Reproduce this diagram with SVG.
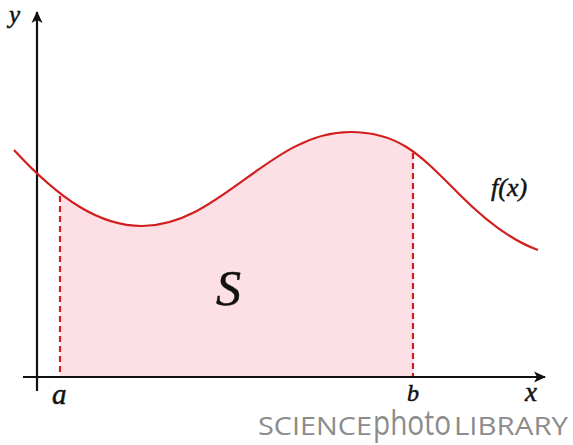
<svg xmlns="http://www.w3.org/2000/svg" width="573" height="445" viewBox="0 0 573 445">
<style>
.axis{stroke:#111;stroke-width:2.2;fill:none}
.curve{stroke:#d11f1f;stroke-width:2.2;fill:none}
.dash{stroke:#d11f1f;stroke-width:2.2;stroke-dasharray:6,4;fill:none}
.lbl{font-family:"Liberation Serif","DejaVu Serif",serif;font-style:italic;fill:#111;stroke:#111;stroke-width:0.5}
.wm{font-family:"Open Sans","Noto Sans",sans-serif;fill:#8c8c8c}
</style>
<defs>
<marker id="arr" viewBox="0 0 12 12" refX="11" refY="6" markerWidth="12" markerHeight="12" markerUnits="userSpaceOnUse" orient="auto">
<path d="M0,0.5 L12,6 L0,11.5 L3,6 Z" fill="#111"/>
</marker>
<clipPath id="ab"><rect x="60" y="0" width="353" height="377"/></clipPath>
</defs>
<g id="area">
<path clip-path="url(#ab)" d="M14,150 C60,200 100,226 142,226 C220,226 270,132 350,132 C400,132 420,155 460,195 C490,225 515,242 538,250 L538,377 L14,377 Z" fill="#fde0e6"/>
</g>
<g id="connectors">
<line class="axis" x1="37" y1="391" x2="37" y2="12" marker-end="url(#arr)"/>
<line class="axis" x1="23" y1="377" x2="545" y2="377" marker-end="url(#arr)"/>
<line class="dash" x1="60" y1="196" x2="60" y2="376"/>
<line class="dash" x1="413" y1="153" x2="413" y2="376"/>
</g>
<g id="curve">
<path class="curve" d="M14,150 C60,200 100,226 142,226 C220,226 270,132 350,132 C400,132 420,155 460,195 C490,225 515,242 538,250"/>
</g>
<g id="labels">
<text class="lbl" x="9" y="23" font-size="25">y</text>
<text class="lbl" x="525" y="401" font-size="27">x</text>
<text class="lbl" x="52" y="404" font-size="29">a</text>
<text class="lbl" x="407" y="401" font-size="24">b</text>
<text class="lbl" x="491" y="196" font-size="26">f(x)</text>
<text class="lbl" x="216" y="305" font-size="50">S</text>
</g>
<g id="watermark">
<text class="wm" x="258" y="435" font-size="25" textLength="114" lengthAdjust="spacingAndGlyphs">SCIENCE</text>
<text class="wm" x="373" y="435" font-size="34" textLength="78" lengthAdjust="spacingAndGlyphs">photo</text>
<text class="wm" x="454" y="435" font-size="25" textLength="114" lengthAdjust="spacingAndGlyphs">LIBRARY</text>
</g>
</svg>
